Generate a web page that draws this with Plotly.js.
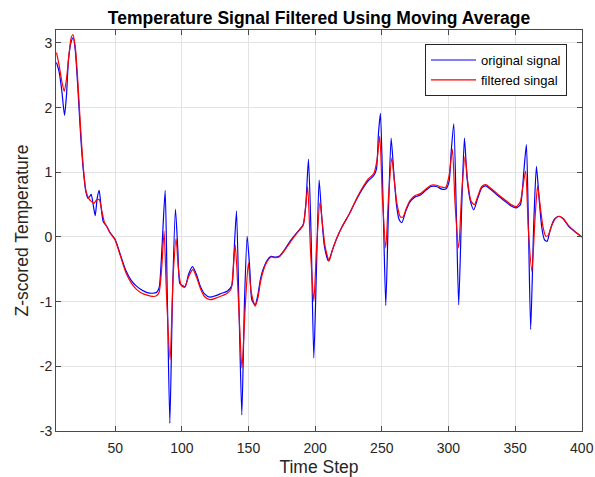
<!DOCTYPE html>
<html>
<head>
<meta charset="utf-8">
<script src="https://cdn.plot.ly/plotly-3.0.1.min.js"></script>
<style>
  html, body { margin: 0; padding: 0; background: #ffffff; }
  #chart { width: 595px; height: 477px; }
</style>
</head>
<body>
<div id="chart"></div>
<script>
// Original temperature signal (z-scored), sampled at its turning points
const origX = [6, 8, 10, 12, 13.5, 15, 17, 18.5, 20, 22, 24, 26, 28, 29.5, 31, 32, 33.5, 35, 36.5, 38, 39.5, 41, 43.5, 46, 50, 54, 58, 62, 66, 70, 74, 78, 81, 83, 85, 87.5, 89, 91, 93, 95.2, 97, 98.5, 100.5, 102.5, 105, 108, 111, 114, 117, 121, 125, 130, 134, 137.5, 139, 141, 143, 145, 147, 149, 151, 152.5, 155, 157, 159, 161, 164, 167, 170, 173, 177, 181, 186, 191, 193, 195, 197, 199, 201, 203, 205, 207, 210, 213, 216, 220, 226, 231, 236, 240, 244, 246, 247.5, 249, 251, 253, 255, 257, 259, 261, 263, 265, 268, 271, 275, 279, 283, 287, 291, 295, 298, 300.5, 302, 304, 306, 307.7, 310, 312, 314, 316.5, 319, 322, 325, 328, 332, 337, 342, 347, 351, 354, 356.5, 358.5, 360, 361.7, 364, 366, 368, 370, 372, 374, 376, 379, 382.5, 386, 390, 395, 400];
const origY = [2.70, 2.55, 2.25, 1.88, 2.2, 2.75, 3.02, 3.08, 2.9, 2.3, 1.6, 1.05, 0.70, 0.60, 0.63, 0.66, 0.50, 0.33, 0.60, 0.72, 0.45, 0.24, 0.17, 0.07, -0.04, -0.28, -0.52, -0.67, -0.76, -0.82, -0.86, -0.87, -0.86, -0.78, -0.2, 0.72, -0.8, -2.88, -0.9, 0.43, -0.2, -0.72, -0.75, -0.77, -0.58, -0.46, -0.58, -0.77, -0.88, -0.93, -0.91, -0.87, -0.84, -0.75, -0.3, 0.40, -1.2, -2.75, -1.0, 0.01, -0.5, -0.97, -1.05, -0.9, -0.65, -0.5, -0.36, -0.30, -0.31, -0.30, -0.20, -0.07, 0.06, 0.19, 0.5, 1.20, 0.0, -1.87, -0.5, 0.88, 0.3, -0.15, -0.37, -0.2, -0.03, 0.15, 0.37, 0.58, 0.76, 0.87, 0.95, 1.05, 1.6, 1.91, 0.5, -1.06, 0.4, 1.53, 1.0, 0.5, 0.27, 0.22, 0.40, 0.54, 0.62, 0.65, 0.72, 0.78, 0.78, 0.74, 0.74, 0.86, 1.3, 1.75, 0.3, -1.05, 0.5, 1.53, 0.9, 0.55, 0.42, 0.60, 0.76, 0.79, 0.73, 0.64, 0.56, 0.48, 0.45, 0.5, 1.0, 1.43, 0.2, -1.43, 0.2, 1.09, 0.6, 0.15, -0.04, -0.07, 0.08, 0.26, 0.32, 0.28, 0.17, 0.08, 0.0];

// Moving-average output
const filtX = [6, 8, 10, 11.8, 13.5, 15.5, 17, 18.3, 20, 22, 24, 26, 28, 30, 32, 34, 36, 38, 40, 42, 44, 46, 50, 54, 58, 62, 66, 70, 74, 78, 81, 83, 85, 86.7, 88.5, 91.2, 93.5, 95.7, 97.5, 99.5, 102, 105, 108.2, 111, 114, 117, 121, 125, 130, 134, 137, 138.5, 140.1, 142.5, 145.1, 147.5, 149.9, 152, 155, 157, 159, 161, 164, 167, 170, 173, 177, 181, 186, 191, 192.8, 194.4, 196.5, 199, 201, 203.6, 205.5, 207.5, 210.5, 213, 216, 220, 226, 231, 236, 240, 244, 246.5, 248.5, 250.5, 253, 255, 257.5, 259.5, 261.5, 264, 266, 268, 271, 275, 279, 283, 287, 291, 295, 298, 300.5, 303, 305, 307.7, 310, 312.5, 314.5, 317, 319.5, 322, 325, 328, 332, 337, 342, 347, 351, 354, 356, 357.9, 360, 362.6, 365, 366.9, 369, 371, 373, 375, 377, 380, 383, 386, 390, 395, 400];
const filtY = [2.85, 2.65, 2.40, 2.25, 2.45, 2.85, 3.08, 3.13, 2.95, 2.4, 1.7, 1.1, 0.72, 0.60, 0.55, 0.52, 0.57, 0.58, 0.40, 0.22, 0.15, 0.07, -0.05, -0.30, -0.55, -0.71, -0.81, -0.87, -0.90, -0.92, -0.91, -0.85, -0.45, 0.09, -0.9, -1.90, -0.6, -0.03, -0.5, -0.75, -0.78, -0.62, -0.50, -0.62, -0.80, -0.92, -0.97, -0.95, -0.91, -0.87, -0.80, -0.5, -0.12, -1.0, -2.03, -1.1, -0.40, -0.85, -1.07, -0.95, -0.7, -0.53, -0.38, -0.31, -0.32, -0.31, -0.21, -0.09, 0.05, 0.18, 0.45, 0.78, -0.2, -1.00, -0.2, 0.53, 0.2, -0.15, -0.37, -0.2, -0.03, 0.15, 0.37, 0.59, 0.78, 0.90, 0.98, 1.2, 1.56, 0.6, -0.17, 0.6, 1.22, 0.85, 0.5, 0.31, 0.31, 0.42, 0.56, 0.64, 0.67, 0.74, 0.80, 0.80, 0.77, 0.77, 0.95, 1.36, 0.5, -0.17, 0.7, 1.25, 0.85, 0.55, 0.50, 0.63, 0.78, 0.81, 0.75, 0.66, 0.58, 0.50, 0.47, 0.55, 0.8, 1.02, 0.1, -0.53, 0.3, 0.79, 0.45, 0.15, 0.01, 0.03, 0.15, 0.28, 0.32, 0.29, 0.18, 0.08, 0.0];

const xTicks = [50, 100, 150, 200, 250, 300, 350, 400];
const yTicks = [-3, -2, -1, 0, 1, 2, 3];

const axisColor = '#4a4a4a';
const textColor = '#262626';
const font = 'Liberation Sans, Arial, Helvetica, sans-serif';

const traces = [
  {
    x: origX, y: origY, type: 'scatter', mode: 'lines',
    name: 'original signal',
    line: { color: '#0000ff', width: 1.2, shape: 'spline', smoothing: 0.6 }
  },
  {
    x: filtX, y: filtY, type: 'scatter', mode: 'lines',
    name: 'filtered singal',
    line: { color: '#ff0000', width: 1.2, shape: 'spline', smoothing: 0.6 }
  }
];

const commonAxis = {
  showline: true, linecolor: axisColor, linewidth: 1,
  mirror: 'allticks', ticks: 'inside', ticklen: 5, tickcolor: axisColor,
  showgrid: true, gridcolor: '#e3e3e3', gridwidth: 1,
  zeroline: false, automargin: false,
  tickfont: { family: font, size: 14, color: textColor }
};

const layout = {
  width: 595, height: 477,
  margin: { l: 56, r: 13, t: 30, b: 46 },
  paper_bgcolor: '#ffffff', plot_bgcolor: '#ffffff',
  showlegend: true,
  title: {
    text: '<b>Temperature Signal Filtered Using Moving Average</b>',
    font: { family: font, size: 17.5, color: '#000000' },
    x: 0.5, xref: 'paper', xanchor: 'center',
    y: 1 - 18 / 477, yref: 'container', yanchor: 'middle'
  },
  xaxis: Object.assign({}, commonAxis, {
    range: [5.6, 400.2],
    tickvals: xTicks, ticktext: xTicks.map(String),
    ticklabelstandoff: 4,
    title: { text: 'Time Step', font: { family: font, size: 17.5, color: textColor }, standoff: 8 }
  }),
  yaxis: Object.assign({}, commonAxis, {
    range: [-3, 3.2],
    tickvals: yTicks, ticktext: yTicks.map(String),
    title: { text: 'Z-scored Temperature', font: { family: font, size: 17.5, color: textColor }, standoff: 6 }
  }),
  legend: {
    x: 0.9715, xanchor: 'right', xref: 'paper',
    y: 0.965, yanchor: 'top', yref: 'paper',
    bgcolor: '#ffffff', bordercolor: '#262626', borderwidth: 1,
    font: { family: font, size: 13, color: '#000000' },
    itemwidth: 45,
    tracegroupgap: 0
  }
};

Plotly.newPlot('chart', traces, layout, { staticPlot: true, displayModeBar: false });
</script>
</body>
</html>
